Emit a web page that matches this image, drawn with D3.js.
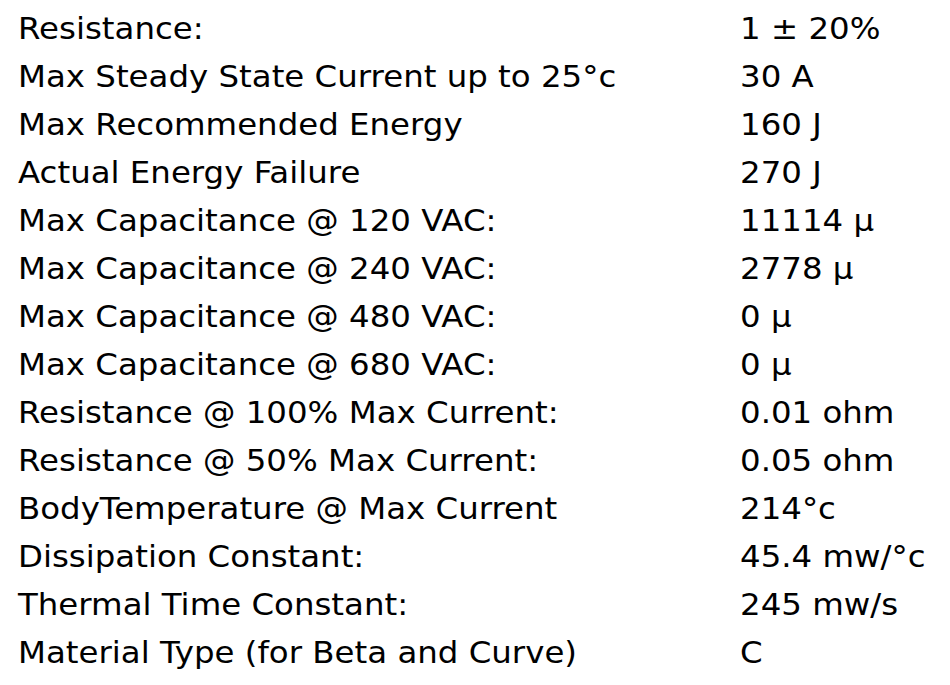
<!DOCTYPE html>
<html><head><meta charset="utf-8">
<script src="https://cdn.jsdelivr.net/npm/d3@7/dist/d3.min.js"></script>
<style>body{margin:0;background:#fff}</style>
</head><body>
<script>
const labels = ["Resistance:","Max Steady State Current up to 25°c","Max Recommended Energy","Actual Energy Failure","Max Capacitance @ 120 VAC:","Max Capacitance @ 240 VAC:","Max Capacitance @ 480 VAC:","Max Capacitance @ 680 VAC:","Resistance @ 100% Max Current:","Resistance @ 50% Max Current:","BodyTemperature @ Max Current","Dissipation Constant:","Thermal Time Constant:","Material Type (for Beta and Curve)"];
const values = ["1 ± 20%","30 A","160 J","270 J","11114 μ","2778 μ","0 μ","0 μ","0.01 ohm","0.05 ohm","214°c","45.4 mw/°c","245 mw/s","C"];
const W=950,H=685;
const svg=d3.select("body").append("svg").attr("width",W).attr("height",H);
const y=d3.scaleBand().domain(d3.range(labels.length)).range([4,676]);
const font="'DejaVu Sans', Verdana, sans-serif";
const g=svg.selectAll("g.row").data(labels).join("g").attr("transform",(d,i)=>`translate(0,${y(i)+y.bandwidth()/2})`);
[[18,(d)=>d],[740,(d,i)=>values[i]]].forEach(([x,f])=>{
  g.append("g").attr("transform",`translate(${x},0) scale(1.06,1)`)
   .append("text").attr("dy","0.36em").attr("font-family",font).attr("font-size",30.6).attr("fill","#000").text(f);
});
</script>
</body></html>
